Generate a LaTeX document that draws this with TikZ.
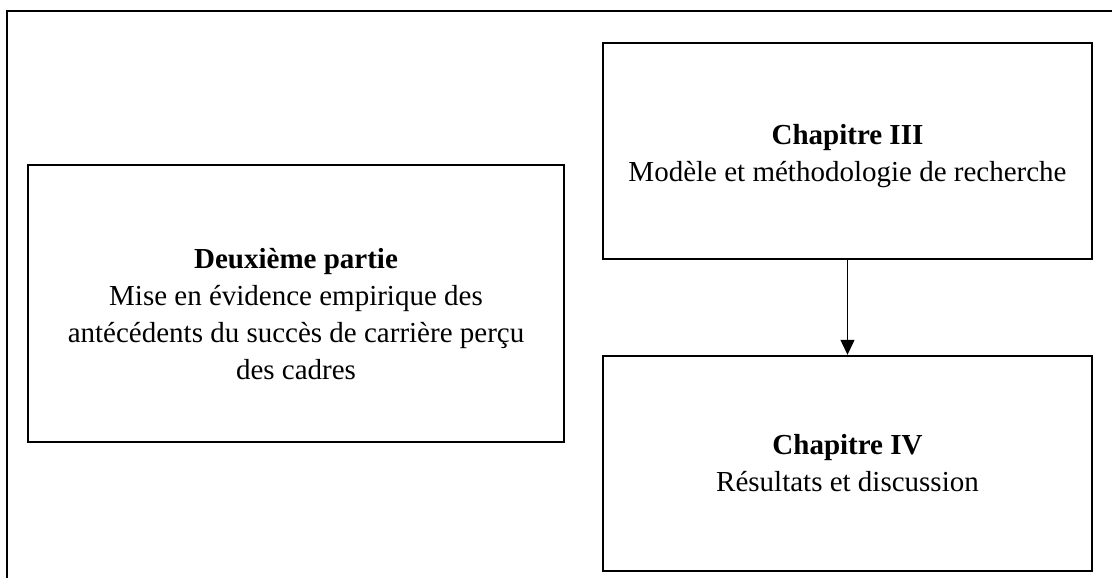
\documentclass[tikz,border=0pt]{standalone}
\usepackage{fontspec}
\setmainfont{Liberation Serif}
\usetikzlibrary{arrows.meta}
\begin{document}
\begin{tikzpicture}[x=1pt,y=-1pt,
	caixa/.style={draw, line width=2.4pt, inner sep=0pt, align=center,
		font=\fontsize{29}{37}\selectfont}] %Escala em pontos, eixo y para baixo
	\useasboundingbox (0,0) rectangle (1112,578); %Margens do desenho
		%Moldura exterior
	\draw[line width=2.6pt] (7,578) -- (7,11) -- (1112,11);
		%Caixas
	\node[caixa, minimum width=536pt, minimum height=277pt] (partie) at (296,303.5)
		{\rule{0pt}{42pt}\textbf{Deuxième partie}\\Mise en évidence empirique des\\antécédents du succès de carrière perçu\\des cadres};
	\node[caixa, minimum width=489pt, minimum height=216pt] (chapIII) at (847.5,151)
		{\rule{0pt}{30pt}\textbf{Chapitre III}\\Modèle et méthodologie de recherche};
	\node[caixa, minimum width=489pt, minimum height=215pt] (chapIV) at (847.5,463.5)
		{\textbf{Chapitre IV}\\Résultats et discussion};
		%Seta
	\draw[-{Triangle[width=14pt,length=15pt]}, line width=1.2pt] (chapIII) -- (chapIV);
\end{tikzpicture}
\end{document}
